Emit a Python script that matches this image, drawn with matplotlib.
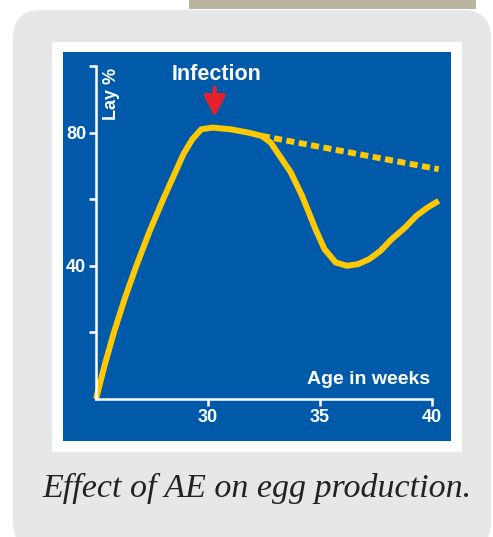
import matplotlib
matplotlib.use('Agg')
import matplotlib.pyplot as plt
from matplotlib.patches import Rectangle, FancyBboxPatch

# flock data: lay percentage against age, AE infection at 30 weeks
age_weeks = [25.0, 25.4, 25.8, 26.3, 26.8, 27.4, 28.0, 28.5, 28.9, 29.3, 29.7,
             30.2, 31.0, 31.8, 32.4, 32.8, 33.2, 33.7, 34.2, 34.8, 35.2,
             35.7, 36.2, 36.7, 37.2, 37.7, 38.2, 38.8, 39.3, 39.8, 40.3]
lay_pct = [0.0, 10.5, 20.0, 30.5, 40.0, 50.5, 60.0, 67.5, 73.5, 78.0, 81.0,
           81.5, 81.0, 80.0, 79.0, 77.0, 73.0, 68.0, 61.0, 51.0, 45.0,
           41.0, 40.0, 40.5, 42.0, 44.5, 48.0, 51.5, 55.0, 57.5, 59.5]

# expected production without infection
normal_weeks = [32.4, 40.3]
normal_pct = [79.0, 69.0]

x_ticks = [30, 35, 40]
y_ticks = [20, 40, 60, 80, 100]
y_labels = ['', '40', '', '80', '']

BLUE = '#005AA9'
YELLOW = '#FFC800'
RED = '#E4202E'
GREY = '#E6E7E9'
TAN = '#B9B59E'

W, H = 493, 537
fig = plt.figure(figsize=(W / 100, H / 100), dpi=100)
fig.patch.set_facecolor('white')

# page background drawn in pixel units
bg = fig.add_axes([0, 0, 1, 1])
bg.set_xlim(0, W)
bg.set_ylim(H, 0)
bg.axis('off')
bg.add_patch(Rectangle((189, -2), 287, 11, color=TAN, lw=0))
bg.add_patch(FancyBboxPatch((13 + 28, 10 + 28), 478 - 56, 540 - 56,
                            boxstyle='round,pad=28', color=GREY, lw=0))
bg.add_patch(Rectangle((52, 42), 410, 410, color='white', lw=0))
bg.add_patch(Rectangle((63, 52), 388, 389, color=BLUE, lw=0))
bg.text(257, 497, 'Effect of AE on egg production.', ha='center', va='baseline',
        fontsize=24.5, style='italic', color='#222222',
        family=['Liberation Serif', 'DejaVu Serif'])

sans = ['Liberation Sans', 'DejaVu Sans']

ax = fig.add_axes([96 / W, (H - 399) / H, 336 / W, 333 / H])
ax.patch.set_alpha(0)
ax.set_xlim(25, 40)
ax.set_ylim(0, 100)

ax.plot(normal_weeks, normal_pct, color=YELLOW, lw=4.3, dashes=(1.35, 0.75),
        clip_on=False, dash_capstyle='butt')
ax.plot(age_weeks, lay_pct, color=YELLOW, lw=4.3, clip_on=False,
        solid_joinstyle='round', solid_capstyle='butt')

for side in ['top', 'right']:
    ax.spines[side].set_visible(False)
for side in ['left', 'bottom']:
    ax.spines[side].set_color('white')
    ax.spines[side].set_linewidth(1.8)

ax.set_xticks(x_ticks)
ax.set_xticklabels([str(t) for t in x_ticks])
ax.set_yticks(y_ticks)
ax.set_yticklabels(y_labels)
ax.tick_params(colors='white', width=1.8, length=5, pad=2, labelsize=13)
for lab in ax.get_xticklabels() + ax.get_yticklabels():
    lab.set_family(sans)
    lab.set_fontweight('bold')

ax.text(0.995, 0.06, 'Age in weeks', transform=ax.transAxes, ha='right',
        va='center', color='white', fontsize=14, fontweight='bold', family=sans)
ax.text(0.045, 0.995, 'Lay %', transform=ax.transAxes, rotation=90, ha='center',
        va='top', color='white', fontsize=13, fontweight='bold', family=sans)
ax.text(30.4, 97.5, 'Infection', ha='center', va='center', color='white',
        fontsize=15.5, fontweight='bold', family=sans, clip_on=False)
ax.annotate('', xy=(30.3, 84.7), xytext=(30.3, 93.5),
            arrowprops=dict(arrowstyle='-|>,head_length=1.25,head_width=0.65',
                            color=RED, lw=3, mutation_scale=10,
                            shrinkA=0, shrinkB=0))

fig.savefig('out.png', dpi=100)
